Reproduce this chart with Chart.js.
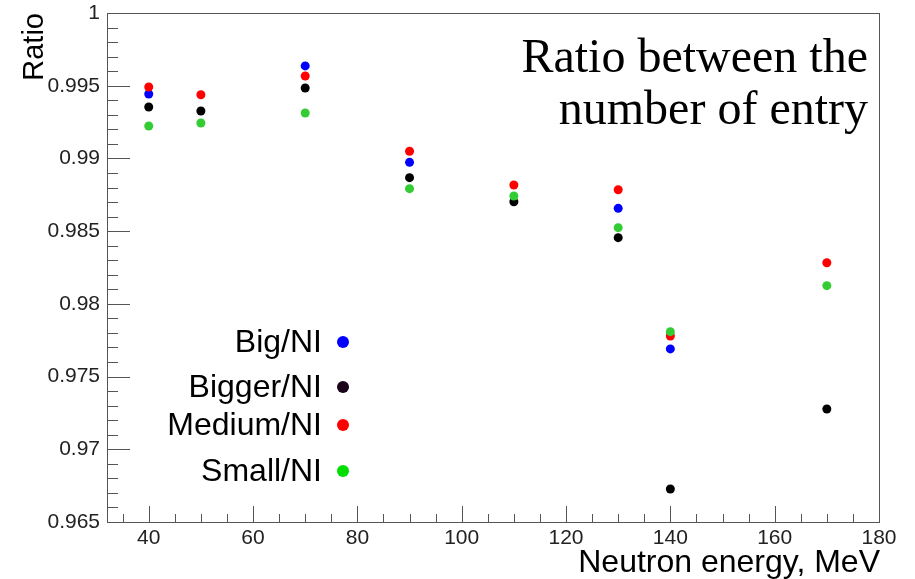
<!DOCTYPE html>
<html>
<head>
<meta charset="utf-8">
<script src="https://cdn.jsdelivr.net/npm/chart.js@4.4.0/dist/chart.umd.min.js"></script>
<style>
  html, body { margin: 0; padding: 0; background: #fff; }
  #c { display: block; }
</style>
</head>
<body>
<canvas id="c" width="915" height="579"></canvas>
<script>
// Neutron energies (MeV)
const energies = [40, 50, 70, 90, 110, 130, 140, 170];

// Ratio of number of entries, per detector size
const bigNI    = [0.99443, null,    0.99636, 0.98973, null,    0.98657, 0.97690, null];
const biggerNI = [0.99354, 0.99326, 0.99484, 0.98868, 0.98702, 0.98455, 0.96727, 0.97277];
const mediumNI = [0.99491, 0.99438, 0.99567, 0.99049, 0.98817, 0.98785, 0.97779, 0.98283];
const smallNI  = [0.99223, 0.99244, 0.99312, 0.98792, 0.98742, 0.98524, 0.97809, 0.98125];

const seriesNames = ['Big/NI', 'Bigger/NI', 'Medium/NI', 'Small/NI'];
const pointColors = ['#0000ff', '#000000', '#ff0000', '#33cc33'];
const legendColors = ['#0000ff', '#1a0018', '#ff0000', '#00dd00'];

const xTicks = [40, 60, 80, 100, 120, 140, 160, 180];
const yTicks = [0.965, 0.97, 0.975, 0.98, 0.985, 0.99, 0.995, 1];

const toPoints = (vals) => energies.map((e, i) => ({ x: e, y: vals[i] }));

const axisColor = '#555555';

// ROOT-like frame, inward ticks, legend and texts
const decorations = {
  id: 'decorations',
  afterDraw(chart) {
    const { ctx, chartArea: a, scales: { x, y } } = chart;
    ctx.save();
    ctx.strokeStyle = axisColor;
    ctx.lineWidth = 1;
    ctx.strokeRect(a.left + 0.5, a.top + 0.5, a.right - a.left, a.bottom - a.top);

    ctx.beginPath();
    // y ticks: major 0.005, minor 0.001
    for (let k = 0; k <= 35; k++) {
      const v = 0.965 + k * 0.001;
      const py = Math.round(y.getPixelForValue(v)) + 0.5;
      const len = (k % 5 === 0) ? 23 : 11;
      ctx.moveTo(a.left, py);
      ctx.lineTo(a.left + len, py);
    }
    // x ticks: major 20, minor 5
    for (let v = 35; v <= 180; v += 5) {
      const px = Math.round(x.getPixelForValue(v)) + 0.5;
      const len = (v % 20 === 0) ? 16 : 8;
      ctx.moveTo(px, a.bottom);
      ctx.lineTo(px, a.bottom - len);
    }
    ctx.stroke();

    // legend
    const legendY = [342, 387, 425, 471];
    ctx.font = '32px "Liberation Sans", Arial, sans-serif';
    ctx.textAlign = 'right';
    ctx.textBaseline = 'middle';
    seriesNames.forEach((name, i) => {
      ctx.fillStyle = '#000';
      ctx.fillText(name, 322, legendY[i] + 1);
      ctx.fillStyle = legendColors[i];
      ctx.beginPath();
      ctx.arc(343, legendY[i], 6, 0, Math.PI * 2);
      ctx.fill();
    });

    // title text
    ctx.fillStyle = '#000';
    ctx.font = '48px "Liberation Serif", "Times New Roman", serif';
    ctx.textBaseline = 'alphabetic';
    ctx.fillText('Ratio between the', 868, 72);
    ctx.fillText('number of entry', 868, 124);

    // axis titles
    ctx.font = '32px "Liberation Sans", Arial, sans-serif';
    ctx.fillText('Neutron energy, MeV', 880, 572);
    ctx.font = '29px "Liberation Sans", Arial, sans-serif';
    ctx.translate(43, 13);
    ctx.rotate(-Math.PI / 2);
    ctx.fillText('Ratio', 0, 0);
    ctx.restore();
  }
};

const mk = (i, vals, order) => ({
  label: seriesNames[i],
  data: toPoints(vals),
  backgroundColor: pointColors[i],
  borderColor: pointColors[i],
  pointRadius: 4.5,
  pointBorderWidth: 0,
  showLine: false,
  order: order
});

new Chart(document.getElementById('c'), {
  type: 'scatter',
  data: {
    datasets: [
      mk(0, bigNI, 3),
      mk(1, biggerNI, 2),
      mk(2, mediumNI, 1),
      mk(3, smallNI, 0)
    ]
  },
  options: {
    responsive: false,
    animation: false,
    devicePixelRatio: 1,
    layout: { padding: { top: 13, right: 36, left: 0, bottom: 0 } },
    plugins: { legend: { display: false }, tooltip: { enabled: false } },
    scales: {
      x: {
        type: 'linear',
        min: 32,
        max: 180,
        afterFit: (s) => { s.height = 57; s.paddingLeft = 0; s.paddingRight = 0; },
        afterBuildTicks: (s) => { s.ticks = xTicks.map(v => ({ value: v })); },
        grid: { display: false, drawTicks: false },
        border: { display: false },
        ticks: {
          color: '#222',
          padding: 4,
          maxRotation: 0,
          font: { family: '"Liberation Sans", Arial, sans-serif', size: 21 },
          callback: (v) => String(v)
        }
      },
      y: {
        type: 'linear',
        min: 0.965,
        max: 1,
        afterFit: (s) => { s.width = 107; s.paddingTop = 0; s.paddingBottom = 0; },
        afterBuildTicks: (s) => { s.ticks = yTicks.map(v => ({ value: v })); },
        grid: { display: false, drawTicks: false },
        border: { display: false },
        ticks: {
          color: '#222',
          padding: 7,
          font: { family: '"Liberation Sans", Arial, sans-serif', size: 21 },
          callback: (v) => String(Number(v.toFixed(3)))
        }
      }
    }
  },
  plugins: [decorations]
});
</script>
</body>
</html>
